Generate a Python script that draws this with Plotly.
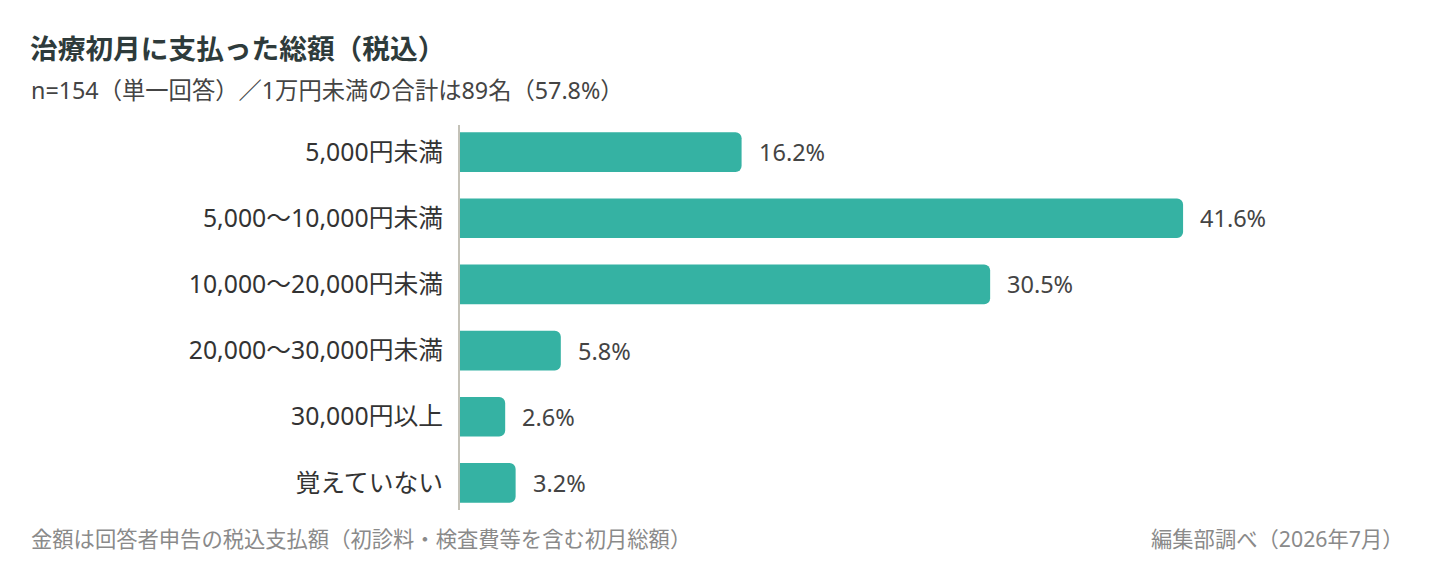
import plotly.graph_objects as go

categories = ["5,000円未満", "5,000〜10,000円未満", "10,000〜20,000円未満",
              "20,000〜30,000円未満", "30,000円以上", "覚えていない"]
values = [16.2, 41.6, 30.5, 5.8, 2.6, 3.2]
value_labels = ["16.2%", "41.6%", "30.5%", "5.8%", "2.6%", "3.2%"]

title_text = "治療初月に支払った総額（税込）"
subtitle_text = "n=154（単一回答）／1万円未満の合計は89名（57.8%）"
note_text = "金額は回答者申告の税込支払額（初診料・検査費等を含む初月総額）"
source_text = "編集部調べ（2026年7月）"

FONT = "Noto Sans, Noto Sans CJK JP, sans-serif"
BAR = "#35b2a3"

# page body adds an 8px margin, so work in screen pixels minus 8
OFF = 8
W, H = 1440 - OFF, 570 - OFF
L, T, PW, PH = 460 - OFF, 125 - OFF, 956, 385
def px(x):
    return (x - OFF - L) / PW
def py(y):
    return (T + PH - (y - OFF)) / PH

fig = go.Figure()
fig.add_trace(go.Bar(
    x=values, y=categories, orientation="h",
    marker=dict(color=BAR, line=dict(width=0), cornerradius=6),
    width=0.6, hoverinfo="skip",
))

# value labels right of each bar
for cat, v, lab in zip(categories, values, value_labels):
    fig.add_annotation(x=v, y=cat, text=lab, showarrow=False,
                       xanchor="left", xshift=15,
                       font=dict(size=23.5, color="#444444", family=FONT))

# title / subtitle / footer
fig.add_annotation(x=px(28), y=py(48), xref="paper", yref="paper",
                   text="<b>" + title_text + "</b>", showarrow=False,
                   xanchor="left", yanchor="middle",
                   font=dict(size=27.7, color="#2e3b3b", family=FONT))
fig.add_annotation(x=px(29), y=py(90), xref="paper", yref="paper",
                   text=subtitle_text, showarrow=False,
                   xanchor="left", yanchor="middle",
                   font=dict(size=23.3, color="#444444", family=FONT))
fig.add_annotation(x=px(29), y=py(538), xref="paper", yref="paper",
                   text=note_text, showarrow=False,
                   xanchor="left", yanchor="middle",
                   font=dict(size=21.3, color="#8a8a8a", family=FONT))
fig.add_annotation(x=px(1406), y=py(538), xref="paper", yref="paper",
                   text=source_text, showarrow=False,
                   xanchor="right", yanchor="middle",
                   font=dict(size=21.3, color="#8a8a8a", family=FONT))

fig.update_layout(
    width=W, height=H,
    margin=dict(l=L, r=W - L - PW, t=T, b=H - T - PH),
    paper_bgcolor="white", plot_bgcolor="white",
    showlegend=False,
    font=dict(family=FONT, size=24, color="#333333"),
    xaxis=dict(range=[0, 55], visible=False, fixedrange=True),
    yaxis=dict(type="category", categoryorder="array", categoryarray=categories,
               range=[5.41, -0.41], showline=True, linecolor="#c4c2b8", linewidth=2,
               showgrid=False, zeroline=False, ticks="", ticklabelstandoff=10,
               tickfont=dict(size=24.8, color="#333333", family=FONT), fixedrange=True),
)

fig.write_html("out.html", config={"displayModeBar": False})
